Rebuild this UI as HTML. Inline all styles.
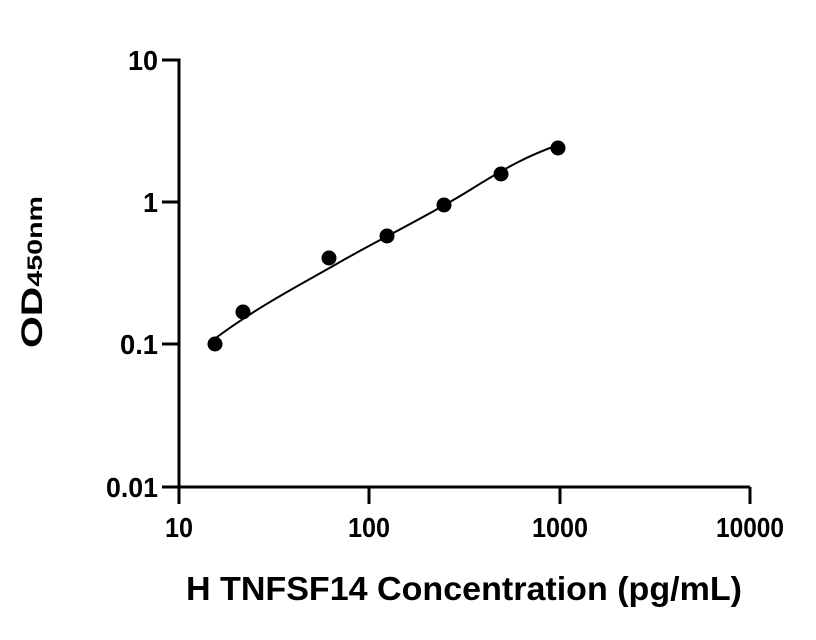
<!DOCTYPE html>
<html><head><style>body{margin:0;background:#fff}svg{display:block}text{font-family:"Liberation Sans",sans-serif;font-weight:bold;fill:#000}</style></head>
<body>
<svg width="816" height="640" viewBox="0 0 816 640">
<g stroke="#000" stroke-width="3" fill="none">
<path d="M162 60H179V487"/>
<path d="M162 202H179M162 344H179M162 487H750"/>
<path d="M179 487V504M369 487V504M560 487V504M750 487V504" />
</g>
<g font-size="28" text-anchor="end" lengthAdjust="spacingAndGlyphs">
<text x="158" y="70" textLength="30" lengthAdjust="spacingAndGlyphs">10</text>
<text x="158" y="212" textLength="15" lengthAdjust="spacingAndGlyphs">1</text>
<text x="158" y="354" textLength="38" lengthAdjust="spacingAndGlyphs">0.1</text>
<text x="158" y="497" textLength="52" lengthAdjust="spacingAndGlyphs">0.01</text>
</g>
<g font-size="28" text-anchor="middle">
<text x="179" y="537" textLength="28" lengthAdjust="spacingAndGlyphs">10</text>
<text x="369" y="537" textLength="42" lengthAdjust="spacingAndGlyphs">100</text>
<text x="560" y="537" textLength="56" lengthAdjust="spacingAndGlyphs">1000</text>
<text x="750" y="537" textLength="68" lengthAdjust="spacingAndGlyphs">10000</text>
</g>
<text x="464" y="600" font-size="33" text-anchor="middle" textLength="556" lengthAdjust="spacingAndGlyphs">H TNFSF14 Concentration (pg/mL)</text>
<text transform="translate(42,272) rotate(-90)" font-size="30" text-anchor="middle" textLength="152" lengthAdjust="spacingAndGlyphs">OD<tspan font-size="21">450nm</tspan></text>
<path d="M213 340 C260 305,300 285,340 262 S430 215,470 190 S530 155,558 145" stroke="#000" stroke-width="2" fill="none"/>
<g fill="#000">
<circle cx="215" cy="344" r="7.5"/><circle cx="243" cy="312" r="7.5"/><circle cx="329" cy="258" r="7.5"/>
<circle cx="387" cy="236" r="7.5"/><circle cx="444" cy="205" r="7.5"/><circle cx="501" cy="174" r="7.5"/><circle cx="558" cy="148" r="7.5"/>
</g>
</svg>
</body></html>
